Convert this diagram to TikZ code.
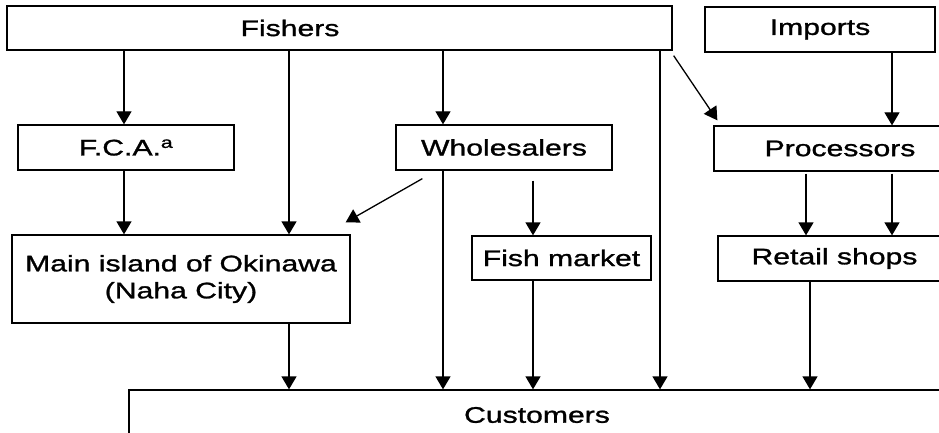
\documentclass[tikz,border=0pt]{standalone}
\usepackage{fontspec}
\setmainfont{Liberation Sans}[FakeStretch=1.34,FakeBold=1.2]
\usetikzlibrary{arrows.meta,calc}
\begin{document}
\begin{tikzpicture}[x=1pt,y=-1pt,
  box/.style={draw,line width=1.3pt,inner sep=0pt,font=\fontsize{22.5}{27}\selectfont,align=center},
  lbl/.style={inner sep=0pt,font=\fontsize{22.5}{27}\selectfont},
  arr/.style={line width=1.3pt,-{Triangle[width=15pt,length=13pt]}}]
\useasboundingbox (0,0) rectangle (939,433);
\clip (0,0) rectangle (939,433);
\fill[white] (0,0) rectangle (939,433);
% boxes
\node[box,minimum width=665pt,minimum height=44pt] (fishers) at (339.5,28) {};
\node[lbl] (fisherslbl) at (290,28) {Fishers};
\node[box,minimum width=230pt,minimum height=45pt] (imports) at (820,29.5) {Imports};
\node[box,minimum width=216pt,minimum height=45pt] (fca) at (126,147.5) {F.C.A.\textsuperscript{a}};
\node[box,minimum width=216pt,minimum height=45pt] (whole) at (504,147.5) {Wholesalers};
\node[box,minimum width=252pt,minimum height=45pt] (proc) at (840,148.5) {Processors};
\node[box,minimum width=338pt,minimum height=88pt] (main) at (181,279) {Main island of Okinawa\\(Naha City)};
\node[box,minimum width=179pt,minimum height=44pt] (fish) at (561.5,258) {Fish market};
\node[box,minimum width=233pt,minimum height=45pt] (retail) at (834.5,258.5) {Retail shops};
\node[box,minimum width=816pt,minimum height=50pt] (cust) at (537,415) {Customers};
% columns
\coordinate (xa) at (124,0);
\coordinate (xb) at (289,0);
\coordinate (xc) at (443,0);
\coordinate (xd) at (533,0);
\coordinate (xe) at (660,0);
\coordinate (xf) at (806,0);
\coordinate (xg) at (892,0);
\coordinate (xh) at (810,0);
% arrows
\draw[arr] (xa |- fishers.south) -- (xa |- fca.north);
\draw[arr] (xa |- fca.south) -- (xa |- main.north);
\draw[arr] (xb |- fishers.south) -- (xb |- main.north);
\draw[arr] (xb |- main.south) -- (xb |- cust.north);
\draw[arr] (xc |- fishers.south) -- (xc |- whole.north);
\draw[arr] (xc |- whole.south) -- (xc |- cust.north);
\draw[arr] ($(xd |- whole.south)+(0,10)$) -- (xd |- fish.north);
\draw[arr] (xd |- fish.south) -- (xd |- cust.north);
\draw[arr] (xe |- fishers.south) -- (xe |- cust.north);
\draw[arr] ($(fishers.south east)+(1,5)$) -- ($(proc.north west)+(4,-5)$);
\draw[arr] (xg |- imports.south) -- (xg |- proc.north);
\draw[arr] ($(xf |- proc.south)+(0,2)$) -- (xf |- retail.north);
\draw[arr] ($(xg |- proc.south)+(0,2)$) -- (xg |- retail.north);
\draw[arr] (xh |- retail.south) -- (xh |- cust.north);
\draw[arr] ($(whole.south west)+(27,8)$) -- ($(main.north east)+(-5,-12)$);
\end{tikzpicture}
\end{document}
